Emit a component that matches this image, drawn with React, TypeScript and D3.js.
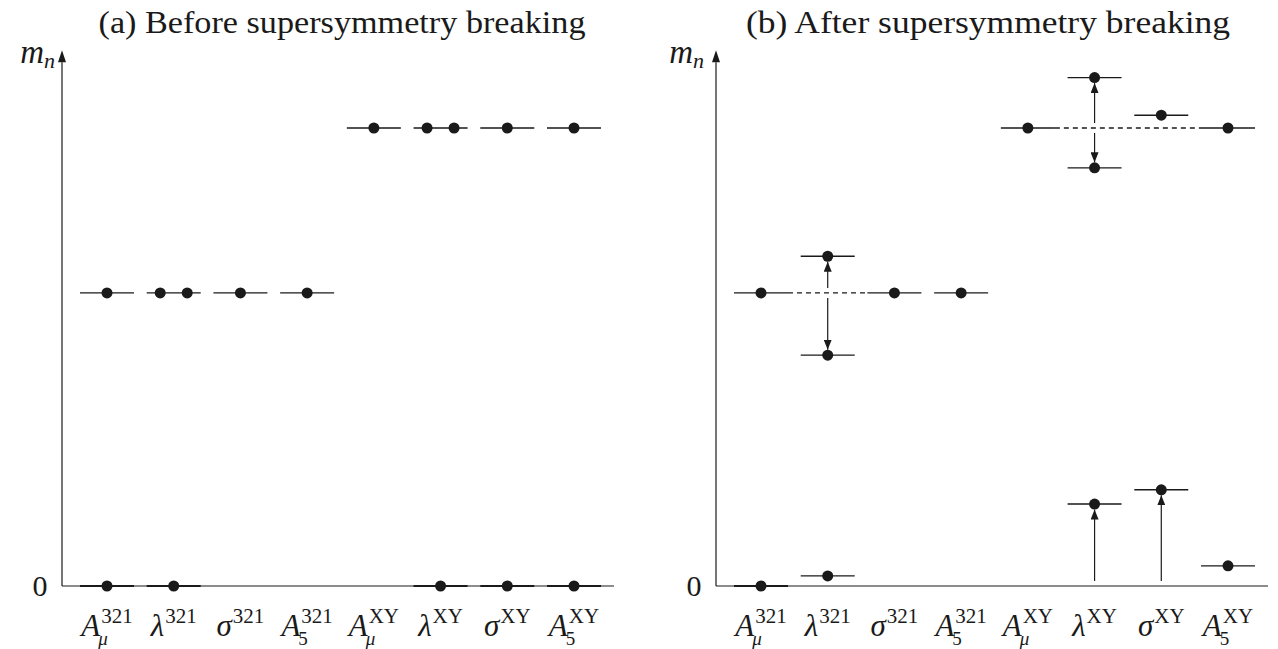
import React, { useEffect, useRef } from "react";
import * as d3 from "d3";

// ---- data ----
const catBase = ["A", "λ", "σ", "A", "A", "λ", "σ", "A"];
const catSub = ["μ", "", "", "5", "μ", "", "", "5"];
const catSup = ["321", "321", "321", "321", "XY", "XY", "XY", "XY"];
const catIds = catBase.map((_, i) => "c" + i);

const panelTitles = ["(a) Before supersymmetry breaking", "(b) After supersymmetry breaking"];

// Before breaking: level markers
const beforeCat = [0, 1, 2, 3, 4, 5, 6, 7, 0, 1, 5, 6, 7];
const beforeMass = [64, 64, 64, 64, 100, 100, 100, 100, 0, 0, 0, 0, 0];
const beforeDots = [1, 2, 1, 1, 1, 2, 1, 1, 1, 1, 1, 1, 1];

// After breaking: level markers
const afterCat = [0, 1, 1, 2, 3, 4, 5, 5, 6, 7, 0, 1, 5, 6, 7];
const afterMass = [64, 72, 50.4, 64, 64, 100, 111, 91.3, 102.8, 100, 0, 2.2, 17.9, 21, 4.4];

// After breaking: arrows showing shifts
const arrowCat = [1, 1, 5, 5, 5, 6];
const arrowFrom = [64, 64, 100, 100, 0, 0];
const arrowTo = [72, 50.4, 111, 91.3, 17.9, 21];

// After breaking: dashed original levels
const dashMass = [64, 100];
const dashFromCat = [0, 4];
const dashToCat = [2, 7];

const yTickValues = [0];
const yAxisTop = 117;

export default function App() {
  const ref = useRef<SVGSVGElement | null>(null);

  useEffect(() => {
    document.body.style.margin = "0";
    const svg = d3.select(ref.current);
    svg.selectAll("*").remove();

    const ink = "#1a1a1a";
    const serif = "Liberation Serif";
    const y = d3.scaleLinear().domain([0, 100]).range([586, 128]);
    const panelOffset = [0, 654];
    const axisX = 62;
    const axisEnd = 614;
    const halfW = 27;
    const r = 5.5;

    const txt = (sel: any, size: number, italic = false) =>
      sel
        .style("font-family", serif)
        .style("font-size", size + "px")
        .style("font-style", italic ? "italic" : "normal")
        .attr("fill", ink);

    svg
      .append("defs")
      .append("marker")
      .attr("id", "ah")
      .attr("viewBox", "0 0 10 8")
      .attr("refX", 10)
      .attr("refY", 4)
      .attr("markerWidth", 10)
      .attr("markerHeight", 8)
      .attr("markerUnits", "userSpaceOnUse")
      .attr("orient", "auto")
      .append("path")
      .attr("d", "M0,0 L10,4 L0,8 Z")
      .attr("fill", ink);

    panelOffset.forEach((off, p) => {
      const g = svg.append("g").attr("transform", `translate(${off},0)`);
      const x = d3.scalePoint<string>().domain(catIds).range([107, 574]);
      const cx = (i: number) => x(catIds[i]) as number;

      // title
      txt(
        g.append("text")
          .attr("x", p === 0 ? 342 : 334)
          .attr("y", 33)
          .attr("text-anchor", "middle")
          .attr("textLength", p === 0 ? 487 : 484)
          .attr("lengthAdjust", "spacingAndGlyphs"),
        32
      ).text(panelTitles[p]);

      // axes
      g.append("line")
        .attr("x1", axisX).attr("x2", axisX)
        .attr("y1", y(0)).attr("y2", y(yAxisTop) + 12)
        .attr("stroke", ink).attr("stroke-width", 1.2);
      g.append("path")
        .attr("d", `M${axisX},${y(yAxisTop)} L${axisX - 4},${y(yAxisTop) + 12} L${axisX + 4},${y(yAxisTop) + 12} Z`)
        .attr("fill", ink);
      g.append("line")
        .attr("x1", axisX).attr("x2", axisEnd)
        .attr("y1", y(0)).attr("y2", y(0))
        .attr("stroke", ink).attr("stroke-width", 1.2);

      // m_n label
      const ml = txt(
        g.append("text").attr("x", axisX - (p === 0 ? 7 : 12)).attr("y", 63).attr("text-anchor", "end"),
        33,
        true
      );
      ml.append("tspan").text("m");
      ml.append("tspan").style("font-size", "22px").attr("dy", 5).text("n");

      // y tick labels
      yTickValues.forEach((v) => {
        txt(
          g.append("text").attr("x", axisX - 22).attr("y", y(v) + 10).attr("text-anchor", "middle"),
          30
        ).text(String(v));
      });

      // category labels (single text element with positioned tspans)
      catBase.forEach((b, i) => {
        const t = txt(g.append("text").attr("y", 636), 31, false);
        const baseSpan = t.append("tspan").attr("x", 0).attr("y", 636).style("font-style", "italic").text(b);
        const bw = (baseSpan.node() as SVGTextContentElement).getComputedTextLength();
        const supSpan = t.append("tspan")
          .attr("x", bw + 1).attr("y", 623)
          .style("font-size", "21px")
          .text(catSup[i]);
        const sw = (supSpan.node() as SVGTextContentElement).getComputedTextLength();
        let subW = 0;
        if (catSub[i]) {
          const subSpan = t.append("tspan")
            .attr("x", bw - (b === "A" ? 2 : 0)).attr("y", 645)
            .style("font-size", "19px")
            .style("font-style", catSub[i] === "μ" ? "italic" : "normal")
            .text(catSub[i]);
          subW = (subSpan.node() as SVGTextContentElement).getComputedTextLength() - 3;
        }
        const total = bw + 1 + Math.max(sw, subW);
        t.attr("transform", `translate(${cx(i) - total / 2},0)`);
      });

      const cats = p === 0 ? beforeCat : afterCat;
      const masses = p === 0 ? beforeMass : afterMass;

      if (p === 1) {
        dashMass.forEach((m, k) => {
          g.append("line")
            .attr("x1", cx(dashFromCat[k]) + halfW)
            .attr("x2", cx(dashToCat[k]) - halfW)
            .attr("y1", y(m)).attr("y2", y(m))
            .attr("stroke", ink).attr("stroke-width", 1.3)
            .attr("stroke-dasharray", "5,4");
        });
        arrowCat.forEach((c, k) => {
          const up = arrowTo[k] > arrowFrom[k];
          const y1 = y(arrowFrom[k]) + (up ? -5 : 5);
          const y2 = y(arrowTo[k]) + (up ? r : -r);
          g.append("line")
            .attr("x1", cx(c)).attr("x2", cx(c))
            .attr("y1", y1).attr("y2", y2)
            .attr("stroke", ink).attr("stroke-width", 1.2)
            .attr("marker-end", "url(#ah)");
        });
      }

      cats.forEach((c, k) => {
        const m = masses[k];
        g.append("line")
          .attr("x1", cx(c) - halfW).attr("x2", cx(c) + halfW)
          .attr("y1", y(m)).attr("y2", y(m))
          .attr("stroke", ink).attr("stroke-width", m === 0 ? 2 : 1.4);
        const nd = p === 0 ? beforeDots[k] : 1;
        const offs = nd === 2 ? [-13.5, 13.5] : [0];
        offs.forEach((o) => {
          g.append("circle")
            .attr("cx", cx(c) + o).attr("cy", y(m)).attr("r", r)
            .attr("fill", ink);
        });
      });
    });
  }, []);

  return <svg ref={ref} width={1278} height={649} style={{ display: "block", background: "#fff" }} />;
}
